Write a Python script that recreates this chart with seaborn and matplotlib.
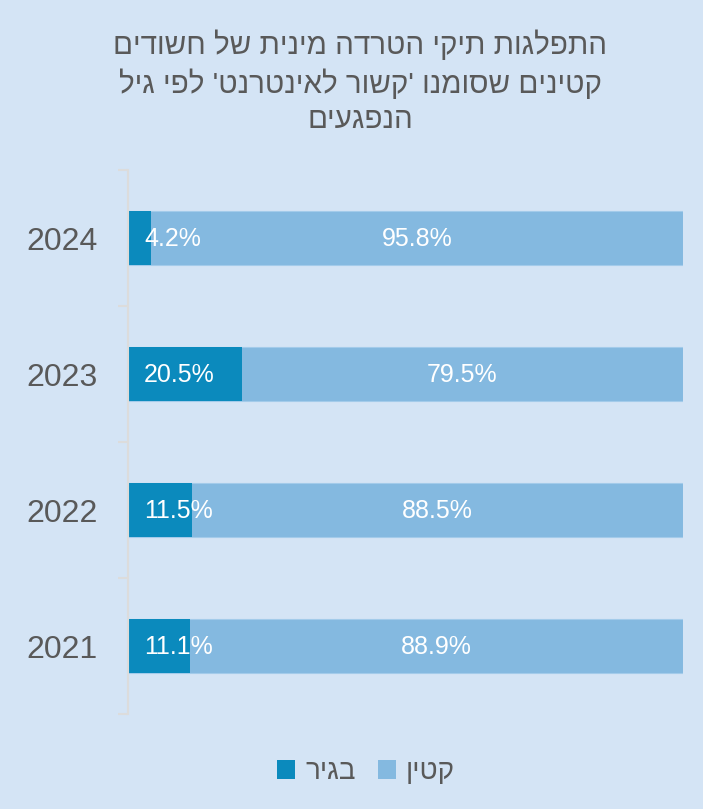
import matplotlib
matplotlib.use("Agg")
import matplotlib.pyplot as plt
import seaborn as sns
import pandas as pd
from matplotlib.patches import Patch

years = ["2024", "2023", "2022", "2021"]
adult = [4.2, 20.5, 11.5, 11.1]
minor = [95.8, 79.5, 88.5, 88.9]
series_names = ["בגיר", "קטין"]
title_lines = ["התפלגות תיקי הטרדה מינית של חשודים",
               "קטינים שסומנו 'קשור לאינטרנט' לפי גיל",
               "הנפגעים"]

def rtl(s):
    return s[::-1]

BG = "#d4e4f5"
DARK = "#0b8abd"
LIGHT = "#84b9e0"
GREY = "#595959"

sns.set_theme(style="white")
plt.rcParams["font.family"] = ["Liberation Sans", "DejaVu Sans"]

df = pd.DataFrame({"year": years, "adult": adult, "minor": minor})
df["total"] = df["adult"] + df["minor"]

fig = plt.figure(figsize=(7.03, 8.09), dpi=100, facecolor=BG)
ax = fig.add_axes([128/703, 1-714/809, (683-128)/703, (714-170)/809])
ax.set_facecolor(BG)

sns.barplot(data=df, x="total", y="year", order=years, color=LIGHT,
            width=0.4, ax=ax, saturation=1, edgecolor="#a3cbea", linewidth=0.8)
sns.barplot(data=df, x="adult", y="year", order=years, color=DARK,
            width=0.4, ax=ax, saturation=1, linewidth=0)

ax.set_xlim(0, 100)
ax.set_ylim(3.5, -0.5)
ax.set_xlabel("")
ax.set_ylabel("")
ax.set_xticks([])
for s in ["top", "right", "bottom"]:
    ax.spines[s].set_visible(False)
ax.spines["left"].set_color("#dcdcdc")
ax.spines["left"].set_linewidth(1.5)

ax.set_yticks(range(len(years)))
ax.set_yticklabels(years, fontsize=23, color=GREY)
ax.tick_params(axis="y", which="major", length=0, pad=22)
ax.set_yticks([i - 0.5 for i in range(len(years) + 1)], minor=True)
ax.tick_params(axis="y", which="minor", length=7, width=1.5, color="#dcdcdc", left=True)

for i, (a, m) in enumerate(zip(adult, minor)):
    ax.annotate(f"{a}%", (0, i), xytext=(11.5, -1), textcoords="offset points",
                ha="left", va="center", fontsize=18, color="white")
    ax.annotate(f"{m}%", (a + m / 2, i), xytext=(0, -1), textcoords="offset points",
                ha="center", va="center", fontsize=18, color="white")

fig.text(360/703, 1-82/809, "\n".join(rtl(l) for l in title_lines),
         ha="center", va="center", fontsize=21.3, color=GREY, linespacing=1.33,
         multialignment="center")

handles = [Patch(facecolor=DARK, edgecolor="none"), Patch(facecolor=LIGHT, edgecolor="none")]
fig.legend(handles, [rtl(n) for n in series_names], loc="center",
           bbox_to_anchor=(366/703, 1-772/809), ncol=2, frameon=False,
           fontsize=20, handlelength=0.65, handleheight=0.65, handletextpad=0.35,
           columnspacing=0.8, labelcolor=GREY)

fig.savefig("out.png", dpi=100, facecolor=BG)
